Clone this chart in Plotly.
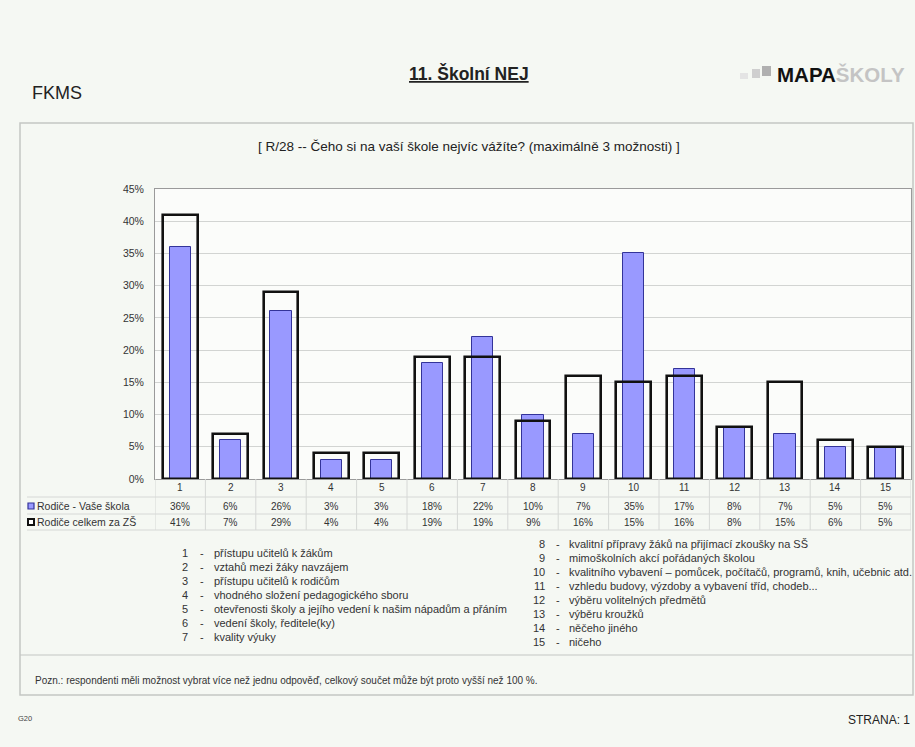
import plotly.graph_objects as go

categories = list(range(1, 16))
vase_skola = [36, 6, 26, 3, 3, 18, 22, 10, 7, 35, 17, 8, 7, 5, 5]
celkem_zs = [41, 7, 29, 4, 4, 19, 19, 9, 16, 15, 16, 8, 15, 6, 5]
series_names = ["Rodiče - Vaše škola", "Rodiče celkem za ZŠ"]
y_ticks = [0, 5, 10, 15, 20, 25, 30, 35, 40, 45]
item_labels = [
    "přístupu učitelů k žákům",
    "vztahů mezi žáky navzájem",
    "přístupu učitelů k rodičům",
    "vhodného složení pedagogického sboru",
    "otevřenosti školy a jejího vedení k našim nápadům a přáním",
    "vedení školy, ředitele(ky)",
    "kvality výuky",
    "kvalitní přípravy žáků na přijímací zkoušky na SŠ",
    "mimoškolních akcí pořádaných školou",
    "kvalitního vybavení – pomůcek, počítačů, programů, knih, učebnic atd.",
    "vzhledu budovy, výzdoby a vybavení tříd, chodeb...",
    "výběru volitelných předmětů",
    "výběru kroužků",
    "něčeho jiného",
    "ničeho",
]
title_text = "11. Školní NEJ"
subtitle_text = "[ R/28 -- Čeho si na vaší škole nejvíc vážíte? (maximálně 3 možnosti) ]"
note_text = "Pozn.: respondenti měli možnost vybrat více než jednu odpověď, celkový součet může být proto vyšší než 100 %."

W, H = 915, 747
L, R, T, B = 155, 911, 189, 479
BG = "#f5f8f3"
FONT = "Liberation Sans, Arial, sans-serif"


def px(x):
    return (x - L) / (R - L)


def py(y):
    return (B - y) / (B - T)


fig = go.Figure()
fig.add_trace(go.Bar(
    x=categories, y=vase_skola, width=0.42, name=series_names[0],
    marker=dict(color="#9999ff", line=dict(color="#333399", width=1)),
    showlegend=False, hoverinfo="x+y",
))
fig.add_trace(go.Bar(
    x=categories, y=celkem_zs, width=0.69, name=series_names[1],
    marker=dict(color="rgba(0,0,0,0)", line=dict(color="#111111", width=2.6)),
    showlegend=False, hoverinfo="x+y",
))

ann = []
shapes = []


def text(t, x, y, size, anchor="left", family=FONT, color="#333", xref="paper"):
    ann.append(dict(text=t, x=px(x) if xref == "paper" else x, y=py(y), xref=xref,
                    yref="paper", xanchor=anchor, yanchor="middle", showarrow=False,
                    font=dict(family=family, size=size, color=color)))


# page header
text("FKMS", 30, 93, 18, color="#222")
text("<b><u>" + title_text + "</u></b>", 469, 73, 17.5, anchor="center", color="#222")
text("<b>MAPA</b><span style='color:#c4c4c4'><b>ŠKOLY</b></span>", 775, 74, 20.5, color="#111")
for (x0, y0, w, h, c) in [(740, 73, 8, 6, "#e4e4e4"), (752, 69, 8, 9, "#cfcfcf"),
                          (762, 66, 9, 10, "#b0b0b0")]:
    shapes.append(dict(type="rect", xref="paper", yref="paper",
                       x0=px(x0), x1=px(x0 + w), y0=py(y0 + h), y1=py(y0),
                       fillcolor=c, line=dict(width=0), layer="above"))

# frame
shapes.append(dict(type="rect", xref="paper", yref="paper", x0=px(20), x1=px(913),
                   y0=py(695), y1=py(123), line=dict(color="#c4c6c4", width=1.5),
                   fillcolor="rgba(0,0,0,0)", layer="below"))
shapes.append(dict(type="line", xref="paper", yref="paper", x0=px(20), x1=px(913),
                   y0=py(655), y1=py(655), line=dict(color="#c4c6c4", width=1.2)))

text(subtitle_text, 469, 147, 13.5, anchor="center", color="#222")

# data table
row_y = [487, 506, 522]
grid_col = "#d6d8d6"
for i in range(len(categories) + 1):
    shapes.append(dict(type="line", xref="x", yref="paper", x0=0.5 + i, x1=0.5 + i,
                       y0=py(479), y1=py(530), line=dict(color=grid_col, width=1)))
for yy in [497, 514, 530]:
    shapes.append(dict(type="line", xref="paper", yref="paper", x0=px(27), x1=px(911),
                       y0=py(yy), y1=py(yy), line=dict(color=grid_col, width=1)))
for c in categories:
    text(str(c), c, row_y[0], 10, anchor="center", xref="x")
for row, vals in zip(row_y[1:], [vase_skola, celkem_zs]):
    for c, v in zip(categories, vals):
        text(f"{v}%", c, row, 10, anchor="center", xref="x")
for row, name in zip(row_y[1:], series_names):
    text(name, 35, row, 10.5)
shapes.append(dict(type="rect", xref="paper", yref="paper", x0=px(28), x1=px(34),
                   y0=py(row_y[1] + 3), y1=py(row_y[1] - 3),
                   fillcolor="#9999ff", line=dict(color="#333399", width=1.2)))
shapes.append(dict(type="rect", xref="paper", yref="paper", x0=px(28), x1=px(34),
                   y0=py(row_y[2] + 3), y1=py(row_y[2] - 3),
                   fillcolor="white", line=dict(color="#111", width=2)))

# item list
for i, lab in enumerate(item_labels):
    n = i + 1
    if n <= 7:
        yy = 553 + 14 * i
        xn, xd, xt = 190, 202, 212
    else:
        yy = 544 + 14 * (i - 7)
        xn, xd, xt = 547, 558, 567
    text(str(n), xn, yy, 11, anchor="right")
    text("-", xd, yy, 11, anchor="center")
    text(lab, xt, yy, 11)

text(note_text, 33, 680, 10)
text("G20", 16, 718, 7.5, color="#444")
text("STRANA: 1", 912, 720, 12, anchor="right", color="#222")

fig.update_layout(
    width=W, height=H,
    margin=dict(l=L, r=W - R, t=T, b=H - B, pad=0),
    paper_bgcolor=BG, plot_bgcolor="#fbfcfa",
    barmode="overlay", bargap=0,
    showlegend=False,
    annotations=ann, shapes=shapes,
    xaxis=dict(range=[0.5, 15.5], tickvals=categories, showticklabels=False,
               showgrid=False, zeroline=False, showline=True, linecolor="#9a9a9a",
               linewidth=1, mirror=True, ticks=""),
    yaxis=dict(range=[0, 45], tickvals=y_ticks, ticktext=[f"{v}%" for v in y_ticks],
               showgrid=True, gridcolor="#d2d4d2", gridwidth=1, zeroline=False,
               showline=True, linecolor="#9a9a9a", linewidth=1, mirror=True, ticks="",
               tickfont=dict(family=FONT, size=10.5, color="#333"), ticklabelstandoff=8),
)

fig.write_html(
    "out.html",
    config={"displayModeBar": False},
    post_script="document.body.style.margin='0';document.body.style.overflow='hidden';",
)
